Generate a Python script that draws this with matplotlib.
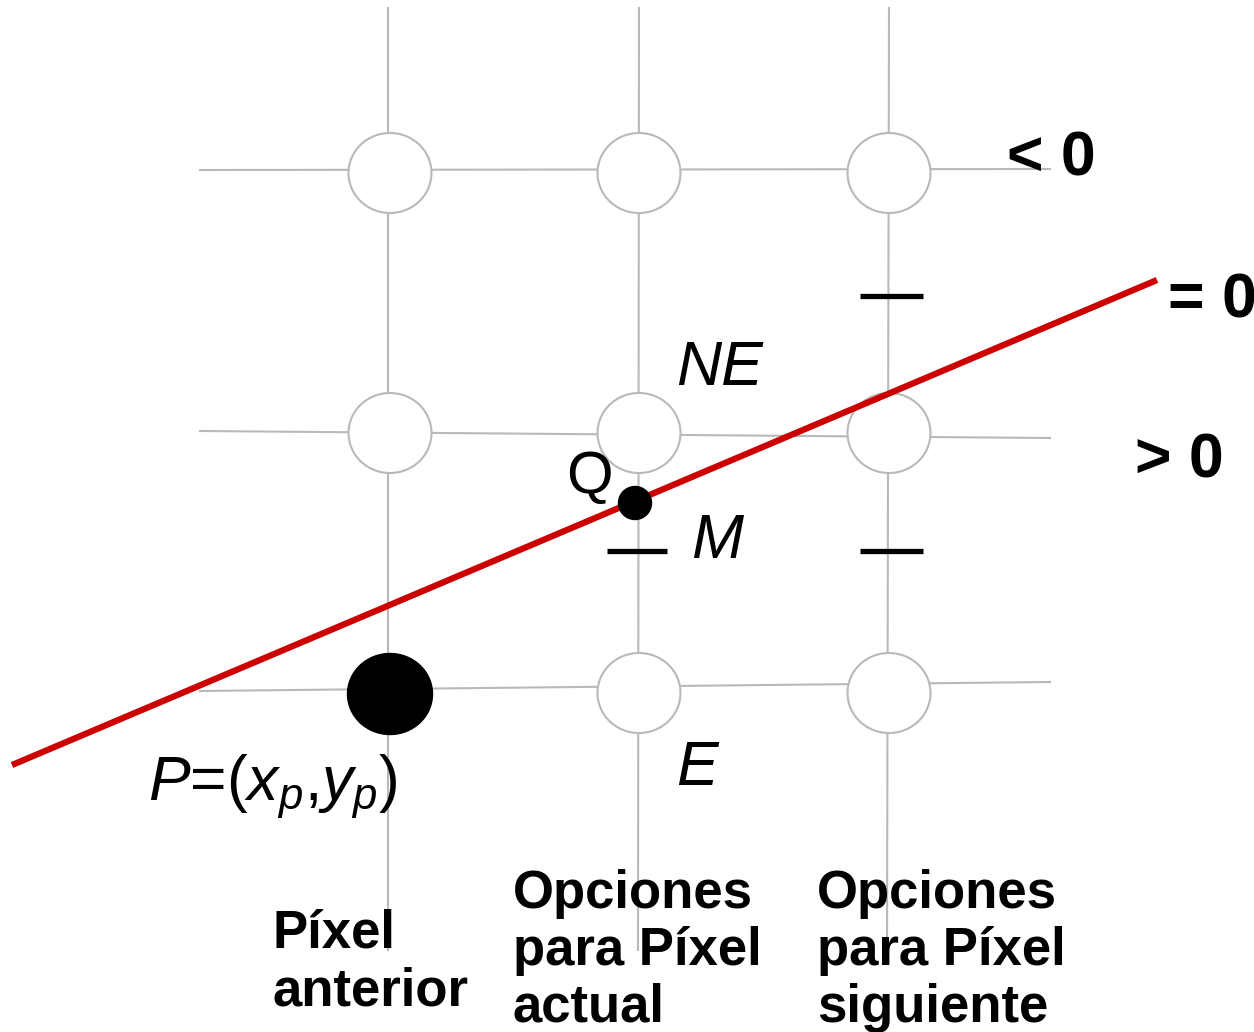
import matplotlib
matplotlib.use("Agg")
import matplotlib.pyplot as plt
from matplotlib.patches import Ellipse

plt.rcParams['font.family'] = ['Liberation Sans', 'DejaVu Sans']
plt.rcParams['mathtext.fontset'] = 'custom'
plt.rcParams['mathtext.rm'] = 'Liberation Sans'
plt.rcParams['mathtext.it'] = 'Liberation Sans:italic'

### grid of pixel centres (image pixel coords, y goes down)
col_x = [390, 639, 889]
row_y = [173, 433, 693]

### grid lines, slightly tilted like in the original slide
hline_left = [170, 431, 691]
hline_right = [169, 438, 682]
hline_x = [200, 1050]
vline_top = [388, 639, 889]
vline_bot = [388, 638, 887]
vline_y = [8, 950]

### the line y = mx + b and the midpoint Q
line_x = [12, 1157]
line_y = [765, 280]
q_point = (635, 503)
p_point = (390, 694)

### the little dashes (midpoints)
dash_x = [(607, 667), (860, 923), (860, 923)]
dash_y = [551, 296, 551]

sign_labels = ['< 0', '= 0', '> 0']
sign_pos = [(1007, 175), (1168, 317), (1135, 477)]

col_labels = [['Píxel', 'anterior'],
              ['Opciones', 'para Píxel', 'actual'],
              ['Opciones', 'para Píxel', 'siguiente']]
col_label_pos = [(273, 948), (513, 908), (817, 908)]
label_step = 57

grey = '#b9b9b9'

fig = plt.figure(figsize=(12.54, 10.32), dpi=100)
ax = fig.add_axes([0, 0, 1, 1])
ax.set_xlim(0, 1254)
ax.set_ylim(1032, 0)
ax.axis('off')

for yl, yr in zip(hline_left, hline_right):
    ax.plot(hline_x, [yl, yr], color=grey, lw=1.5, zorder=1)
for xt, xb in zip(vline_top, vline_bot):
    ax.plot([xt, xb], vline_y, color=grey, lw=1.5, zorder=1)

for cx in col_x:
    for cy in row_y:
        if (cx, cy) == (col_x[0], row_y[2]):
            continue
        ax.add_patch(Ellipse((cx, cy), 83, 80, facecolor='white', edgecolor=grey, lw=1.5, zorder=2))
ax.add_patch(Ellipse(p_point, 85, 81, facecolor='black', edgecolor='black', zorder=3))

ax.plot(line_x, line_y, color='#cc0000', lw=4.5, solid_capstyle='butt', zorder=4)
ax.add_patch(Ellipse(q_point, 33, 33, facecolor='black', edgecolor='black', zorder=5))

for (x0, x1), y in zip(dash_x, dash_y):
    ax.plot([x0, x1], [y, y], color='black', lw=3.8, solid_capstyle='butt', zorder=4)

for s, (x, y) in zip(sign_labels, sign_pos):
    ax.text(x, y, s, fontsize=45, fontweight='bold', ha='left', va='baseline', zorder=6)

ax.text(676, 385, 'NE', fontsize=45, style='italic', ha='left', va='baseline', zorder=6)
ax.text(566, 493, 'Q', fontsize=43, ha='left', va='baseline', zorder=6)
ax.text(691, 558, 'M', fontsize=45, style='italic', ha='left', va='baseline', zorder=6)
ax.text(676, 785, 'E', fontsize=45, style='italic', ha='left', va='baseline', zorder=6)
ax.text(148, 800, r'$P$=($x_p$,$y_p$)', fontsize=45, ha='left', va='baseline', zorder=6)

for lines, (x, y) in zip(col_labels, col_label_pos):
    for i, s in enumerate(lines):
        ax.text(x, y + i * label_step, s, fontsize=38, fontweight='bold',
                ha='left', va='baseline', zorder=6)

fig.savefig('out.png', dpi=100)
